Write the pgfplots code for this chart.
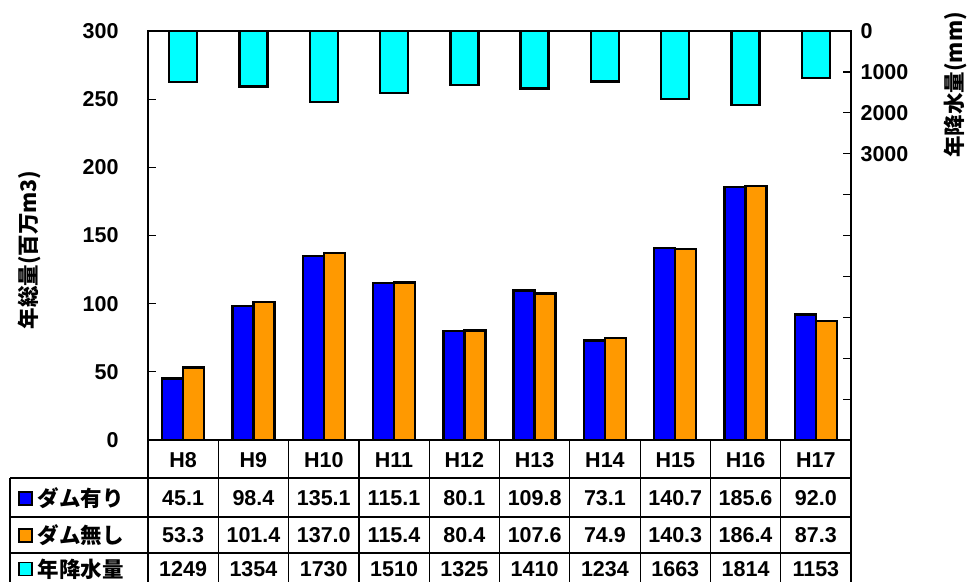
\documentclass[border=0pt]{standalone}
\usepackage{pgfplots}
\pgfplotsset{compat=1.18}
\usepackage{fontspec}
\setmainfont{Liberation Sans}
\newfontfamily\jp{Noto Sans CJK JP}
\definecolor{dblue}{RGB}{0,0,255}
\definecolor{dorange}{RGB}{255,153,0}
\definecolor{dcyan}{RGB}{0,255,255}
\newcommand{\tf}{\fontsize{21.5}{23}\selectfont\bfseries}
\newcommand{\jf}{\jp\fontsize{21.5}{23}\selectfont\bfseries}
\begin{document}
\begin{tikzpicture}
\begin{axis}[
  at={(148pt,142pt)}, anchor=south west,
  scale only axis, width=703pt, height=409pt,
  xmin=-0.5, xmax=9.5, ymin=0, ymax=300,
  xtick=\empty,
  ytick={0,50,...,300},
  ytick pos=left, tick align=inside,
  major tick length=8pt,
  axis line style={line width=2.2pt},
  every tick/.style={black, line width=1.2pt},
  ybar=0pt, bar width=21pt,
  yticklabel style={font=\tf, xshift=-26pt},
  /pgf/number format/assume math mode=true,
]
\addplot[fill=dblue, draw=black, line width=2.4pt] coordinates {(0,45.1) (1,98.4) (2,135.1) (3,115.1) (4,80.1) (5,109.8) (6,73.1) (7,140.7) (8,185.6) (9,92.0)};
\addplot[fill=dorange, draw=black, line width=2.4pt] coordinates {(0,53.3) (1,101.4) (2,137.0) (3,115.4) (4,80.4) (5,107.6) (6,74.9) (7,140.3) (8,186.4) (9,87.3)};
\end{axis}
\begin{axis}[
  at={(148pt,142pt)}, anchor=south west,
  scale only axis, width=703pt, height=409pt,
  xmin=-0.5, xmax=9.5, ymin=0, ymax=10000, y dir=reverse,
  xtick=\empty,
  ytick={0,1000,...,10000},
  yticklabels={0,1000,2000,3000,{},{},{},{},{},{},{}},
  ytick pos=right, tick align=inside,
  major tick length=8pt,
  axis line style={line width=2.2pt},
  every tick/.style={black, line width=1.2pt},
  ybar, bar width=28pt,
  yticklabel style={font=\tf, xshift=6pt},
  scaled y ticks=false,
  /pgf/number format/assume math mode=true,
]
\addplot[fill=dcyan, draw=black, line width=2.4pt] coordinates {(0,1249) (1,1354) (2,1730) (3,1510) (4,1325) (5,1410) (6,1234) (7,1663) (8,1814) (9,1153)};
\end{axis}
% axis titles
\node[rotate=90, font=\jf] at (29pt,332pt) {年総量(百万m3)};
\node[rotate=90, font=\jf] at (955pt,497pt) {年降水量(mm)};
% data table
\begin{scope}[line width=1.2pt]
\foreach \k in {0,...,10} {
  \draw ({148pt+70.3pt*\k},142pt) -- ({148pt+70.3pt*\k},0pt);
}
\draw (10pt,104pt) -- (851pt,104pt);
\draw (10pt,65pt) -- (851pt,65pt);
\draw (10pt,29pt) -- (851pt,29pt);
\draw (10pt,104pt) -- (10pt,0pt);
\end{scope}
\foreach \lab [count=\i from 0] in {H8,H9,H10,H11,H12,H13,H14,H15,H16,H17} {
  \node[font=\tf] at ({148pt+70.3pt*(\i+0.5)},122pt) {\lab};
}
\foreach \v [count=\i from 0] in {45.1,98.4,135.1,115.1,80.1,109.8,73.1,140.7,185.6,92.0} {
  \node[font=\tf] at ({148pt+70.3pt*(\i+0.5)},84pt) {\v};
}
\foreach \v [count=\i from 0] in {53.3,101.4,137.0,115.4,80.4,107.6,74.9,140.3,186.4,87.3} {
  \node[font=\tf] at ({148pt+70.3pt*(\i+0.5)},47pt) {\v};
}
\foreach \v [count=\i from 0] in {1249,1354,1730,1510,1325,1410,1234,1663,1814,1153} {
  \node[font=\tf] at ({148pt+70.3pt*(\i+0.5)},13pt) {\v};
}
\node[anchor=west, font=\jf, inner sep=0pt] at (18pt,84pt) {\tikz[baseline=-1.5pt]\draw[fill=dblue, line width=1.5pt] (0,0) rectangle (13pt,13pt);\hspace{5pt}ダム有り};
\node[anchor=west, font=\jf, inner sep=0pt] at (18pt,47pt) {\tikz[baseline=-1.5pt]\draw[fill=dorange, line width=1.5pt] (0,0) rectangle (13pt,13pt);\hspace{5pt}ダム無し};
\node[anchor=west, font=\jf, inner sep=0pt] at (18pt,13pt) {\tikz[baseline=-1.5pt]\draw[fill=dcyan, line width=1.5pt] (0,0) rectangle (13pt,13pt);\hspace{5pt}年降水量};
\pgfresetboundingbox
\path[use as bounding box] (0pt,0pt) rectangle (968pt,582pt);
\end{tikzpicture}
\end{document}
